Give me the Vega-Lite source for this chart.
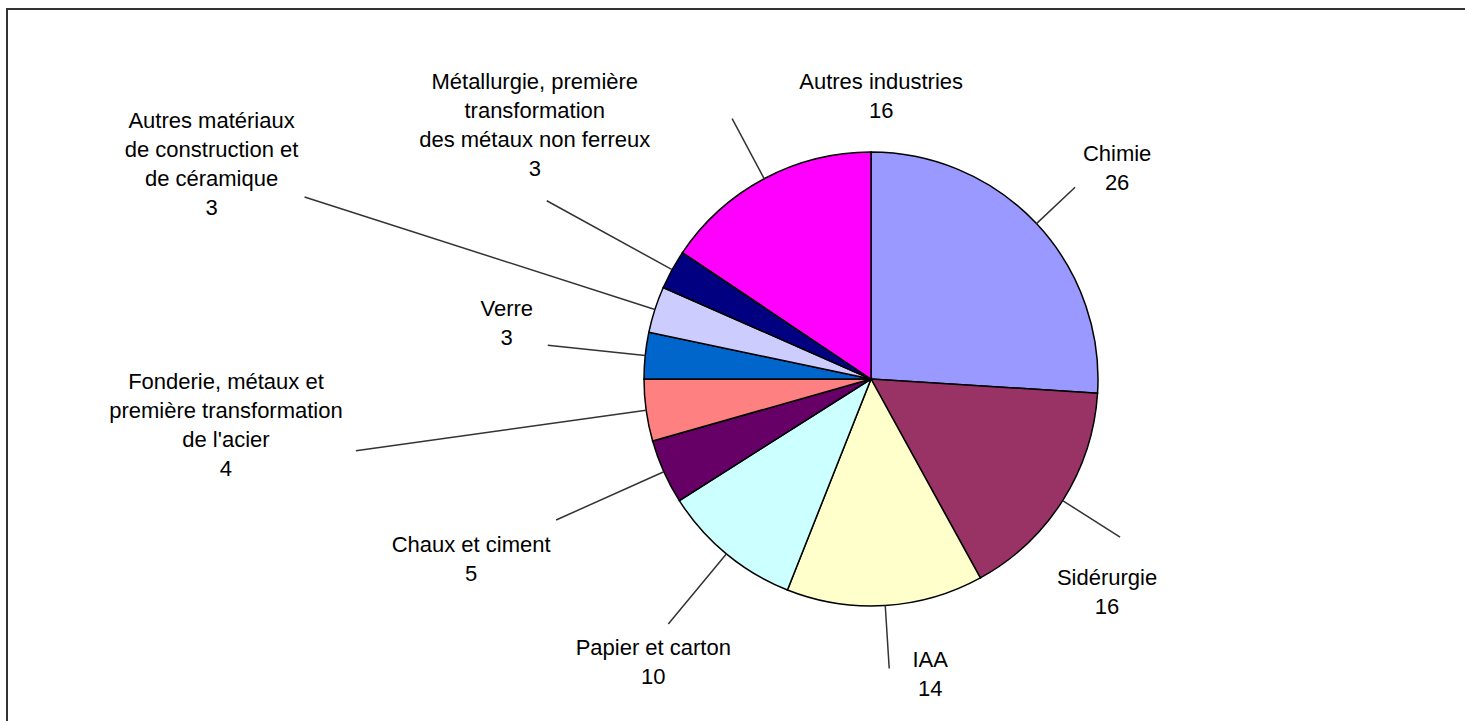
{
  "$schema": "https://vega.github.io/schema/vega-lite/v6.json",
  "autosize": "none",
  "width": 1465,
  "height": 721,
  "padding": {"left": 7, "top": 9, "right": 0, "bottom": 0},
  "background": "white",
  "config": {
    "view": {"stroke": "#333333", "strokeWidth": 2},
    "arc": {"filled": false},
    "text": {"font": "Liberation Sans", "fontSize": 22, "lineHeight": 29, "color": "#000000", "align": "center", "baseline": "top"}
  },
  "data": {
    "values": [
      {"secteur": "Chimie", "valeur": 26, "etiquette": ["Chimie", "26"]},
      {"secteur": "Sidérurgie", "valeur": 16, "etiquette": ["Sidérurgie", "16"]},
      {"secteur": "IAA", "valeur": 14, "etiquette": ["IAA", "14"]},
      {"secteur": "Papier et carton", "valeur": 10, "etiquette": ["Papier et carton", "10"]},
      {"secteur": "Chaux et ciment", "valeur": 4.6, "etiquette": ["Chaux et ciment", "5"]},
      {"secteur": "Fonderie, métaux et première transformation de l'acier", "valeur": 4.4, "etiquette": ["Fonderie, métaux et", "première transformation", "de l'acier", "4"]},
      {"secteur": "Verre", "valeur": 3.3, "etiquette": ["Verre", "3"]},
      {"secteur": "Autres matériaux de construction et de céramique", "valeur": 3.3, "etiquette": ["Autres matériaux", "de construction et", "de céramique", "3"]},
      {"secteur": "Métallurgie, première transformation des métaux non ferreux", "valeur": 2.8, "etiquette": ["Métallurgie, première", "transformation", "des métaux non ferreux", "3"]},
      {"secteur": "Autres industries", "valeur": 15.6, "etiquette": ["Autres industries", "16"]}
    ]
  },
  "transform": [
    {"stack": "valeur", "groupby": [], "as": ["debut", "fin"]}
  ],
  "encoding": {
    "x": {"datum": 0, "type": "quantitative", "scale": {"domain": [-864, 601], "nice": false, "zero": false}, "axis": null},
    "y": {"datum": 0, "type": "quantitative", "scale": {"domain": [-351, 370], "nice": false, "zero": false}, "axis": null}
  },
  "layer": [
    {
      "mark": {"type": "arc", "filled": true, "outerRadius": 227, "stroke": "#000000", "strokeWidth": 1.5},
      "encoding": {
        "theta": {"field": "debut", "type": "quantitative", "stack": null, "scale": {"domain": [0, 100]}},
        "theta2": {"field": "fin"},
        "color": {
          "field": "secteur", "type": "nominal", "legend": null,
          "scale": {
            "domain": ["Chimie", "Sidérurgie", "IAA", "Papier et carton", "Chaux et ciment", "Fonderie, métaux et première transformation de l'acier", "Verre", "Autres matériaux de construction et de céramique", "Métallurgie, première transformation des métaux non ferreux", "Autres industries"],
            "range": ["#9999FF", "#993366", "#FFFFCC", "#CCFFFF", "#660066", "#FF8080", "#0066CC", "#CCCCFF", "#000080", "#FF00FF"]
          }
        }
      }
    },
    {
      "transform": [
        {"fold": ["debut", "fin"], "as": ["borne", "angle"]},
        {"joinaggregate": [{"op": "mean", "field": "angle", "as": "milieu"}], "groupby": ["secteur"]},
        {"filter": "datum.borne === 'debut'"}
      ],
      "encoding": {
        "theta": {"field": "milieu", "type": "quantitative", "stack": null}
      },
      "layer": [
        {"transform": [{"filter": {"field": "secteur", "equal": "Chimie"}}], "layer": [
          {"mark": {"type": "arc", "innerRadius": 227, "outerRadius": 280, "stroke": "#333333", "strokeWidth": 1.5}, "encoding": {"theta2": {"field": "milieu"}}},
          {"mark": {"type": "text", "radius": 280, "dx": 42, "dy": -43}, "encoding": {"text": {"field": "etiquette"}}}
        ]},
        {"transform": [{"filter": {"field": "secteur", "equal": "Sidérurgie"}}], "layer": [
          {"mark": {"type": "arc", "innerRadius": 227, "outerRadius": 295, "stroke": "#333333", "strokeWidth": 1.5}, "encoding": {"theta2": {"field": "milieu"}}},
          {"mark": {"type": "text", "radius": 295, "dx": -13, "dy": 31}, "encoding": {"text": {"field": "etiquette"}}}
        ]},
        {"transform": [{"filter": {"field": "secteur", "equal": "IAA"}}], "layer": [
          {"mark": {"type": "arc", "innerRadius": 227, "outerRadius": 290, "stroke": "#333333", "strokeWidth": 1.5}, "encoding": {"theta2": {"field": "milieu"}}},
          {"mark": {"type": "text", "radius": 290, "dx": 41, "dy": -18}, "encoding": {"text": {"field": "etiquette"}}}
        ]},
        {"transform": [{"filter": {"field": "secteur", "equal": "Papier et carton"}}], "layer": [
          {"mark": {"type": "arc", "innerRadius": 227, "outerRadius": 318, "stroke": "#333333", "strokeWidth": 1.5}, "encoding": {"theta2": {"field": "milieu"}}},
          {"mark": {"type": "text", "radius": 318, "dx": -15, "dy": 14}, "encoding": {"text": {"field": "etiquette"}}}
        ]},
        {"transform": [{"filter": {"field": "secteur", "equal": "Chaux et ciment"}}], "layer": [
          {"mark": {"type": "arc", "innerRadius": 227, "outerRadius": 345, "stroke": "#333333", "strokeWidth": 1.5}, "encoding": {"theta2": {"field": "milieu"}}},
          {"mark": {"type": "text", "radius": 345, "dx": -85, "dy": 15}, "encoding": {"text": {"field": "etiquette"}}}
        ]},
        {"transform": [{"filter": {"field": "secteur", "equal": "Fonderie, métaux et première transformation de l'acier"}}], "layer": [
          {"mark": {"type": "arc", "innerRadius": 227, "outerRadius": 520, "stroke": "#333333", "strokeWidth": 1.5}, "encoding": {"theta2": {"field": "milieu"}}},
          {"mark": {"type": "text", "radius": 520, "dx": -130, "dy": -79}, "encoding": {"text": {"field": "etiquette"}}}
        ]},
        {"transform": [{"filter": {"field": "secteur", "equal": "Verre"}}], "layer": [
          {"mark": {"type": "arc", "innerRadius": 227, "outerRadius": 325, "stroke": "#333333", "strokeWidth": 1.5}, "encoding": {"theta2": {"field": "milieu"}}},
          {"mark": {"type": "text", "radius": 325, "dx": -41, "dy": -46}, "encoding": {"text": {"field": "etiquette"}}}
        ]},
        {"transform": [{"filter": {"field": "secteur", "equal": "Autres matériaux de construction et de céramique"}}], "layer": [
          {"mark": {"type": "arc", "innerRadius": 227, "outerRadius": 595, "stroke": "#333333", "strokeWidth": 1.5}, "encoding": {"theta2": {"field": "milieu"}}},
          {"mark": {"type": "text", "radius": 595, "dx": -93, "dy": -86}, "encoding": {"text": {"field": "etiquette"}}}
        ]},
        {"transform": [{"filter": {"field": "secteur", "equal": "Métallurgie, première transformation des métaux non ferreux"}}], "layer": [
          {"mark": {"type": "arc", "innerRadius": 227, "outerRadius": 370, "stroke": "#333333", "strokeWidth": 1.5}, "encoding": {"theta2": {"field": "milieu"}}},
          {"mark": {"type": "text", "radius": 370, "dx": -12, "dy": -129}, "encoding": {"text": {"field": "etiquette"}}}
        ]},
        {"transform": [{"filter": {"field": "secteur", "equal": "Autres industries"}}], "layer": [
          {"mark": {"type": "arc", "innerRadius": 227, "outerRadius": 295, "stroke": "#333333", "strokeWidth": 1.5}, "encoding": {"theta2": {"field": "milieu"}}},
          {"mark": {"type": "text", "radius": 295, "dx": 149, "dy": -47}, "encoding": {"text": {"field": "etiquette"}}}
        ]}
      ]
    }
  ]
}
